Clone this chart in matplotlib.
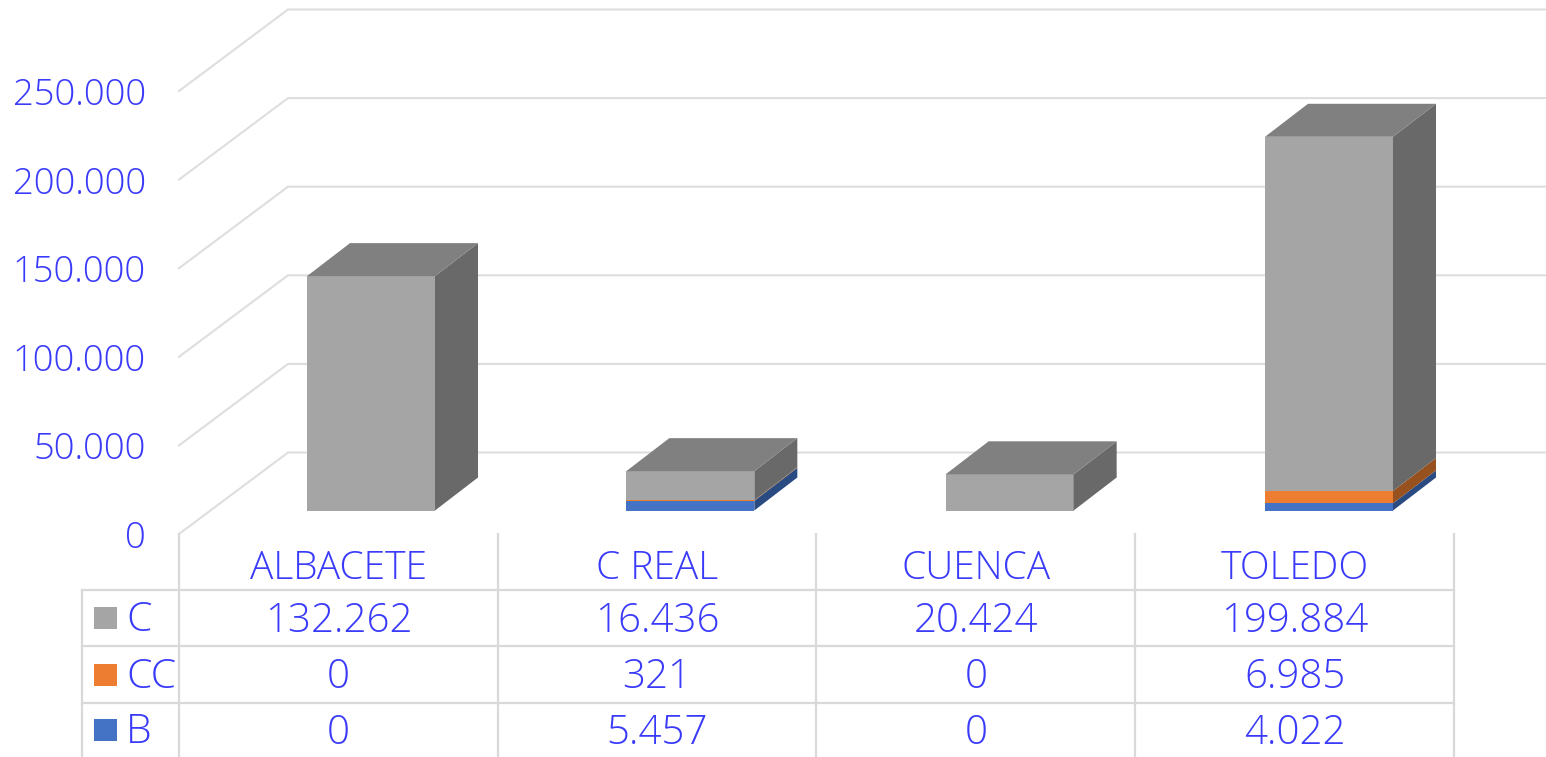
import matplotlib
matplotlib.use("Agg")
import matplotlib.pyplot as plt
from matplotlib.patches import Polygon, Rectangle

categorias = ["ALBACETE", "C REAL", "CUENCA", "TOLEDO"]
serie_c = [132262, 16436, 20424, 199884]
serie_cc = [0, 321, 0, 6985]
serie_b = [0, 5457, 0, 4022]
ticks_y = [0, 50000, 100000, 150000, 200000, 250000]

AZUL_TEXTO = "#3a3afa"
GRIS_LINEA = "#dedede"
GRIS_TABLA = "#d9d9d9"
FUENTE = ["Open Sans", "DejaVu Sans"]

W, H = 1546, 757
COL = 318.75      # ancho de columna en px
ESC = 1.772 / 1000  # px por unidad
X0 = 179
Y_BASE = 510.5
PASO_BARRA = 319.33 / COL
BAJA_TEXTO = 2.5  # px, centrado de la fuente


def dx(px):
    return px / COL


def dy(px):
    return px / ESC


def miles(v):
    return f"{v:,}".replace(",", ".")


def caja(ax, i, v0, v1, frente, lado, techo=None):
    x0 = i * PASO_BARRA + dx(128)
    x1 = x0 + dx(128)
    ox, oy = dx(43), dy(33)
    ax.add_patch(Rectangle((x0, v0), x1 - x0, v1 - v0, fc=frente, ec="none", zorder=5))
    ax.add_patch(Polygon([(x1, v0), (x1 + ox, v0 + oy), (x1 + ox, v1 + oy), (x1, v1)],
                         fc=lado, ec="none", zorder=5))
    if techo:
        ax.add_patch(Polygon([(x0, v1), (x1, v1), (x1 + ox, v1 + oy), (x0 + ox, v1 + oy)],
                             fc=techo, ec="none", zorder=5))


fig = plt.figure(figsize=(W / 100, H / 100), dpi=100)
ax = fig.add_axes([0, 0, 1, 1])
ax.set_xlim(-dx(X0), dx(W - X0))
ax.set_ylim(-dy(H - Y_BASE), dy(Y_BASE))
ax.set_axis_off()

# paredes: rejilla en perspectiva
suelo = -dy(23.5)
fx, fy = dx(109), dy(81.5)
for t in ticks_y:
    v = suelo + t
    ax.plot([0, fx, dx(W - X0)], [v, v + fy, v + fy], color=GRIS_LINEA, lw=1.5,
            solid_joinstyle="miter", zorder=1)
    ax.text(-dx(33), v - dy(4.5), miles(t), ha="right", va="center", color=AZUL_TEXTO,
            fontsize=26.2, family=FUENTE, weight="light")

# barras apiladas
for i in range(len(categorias)):
    base = 0
    tramos = [(serie_b[i], "#4472c4", "#2a4a82"), (serie_cc[i], "#ed7d31", "#96511f"),
              (serie_c[i], "#a5a5a5", "#696969")]
    for valor, frente, lado in tramos:
        if valor > 0:
            caja(ax, i, base, base + valor, frente, lado)
            base += valor
    caja(ax, i, base, base, "#a5a5a5", "#696969", techo="#808080")

# tabla de datos
y_fil = [-dy(590 - Y_BASE), -dy(646 - Y_BASE), -dy(703 - Y_BASE), -dy(H - Y_BASE)]
n = len(categorias)
for j in range(n + 1):
    ax.plot([j, j], [suelo, y_fil[-1]], color=GRIS_TABLA, lw=1.6, zorder=2)
ax.plot([-dx(97)] * 2, [y_fil[0], y_fil[-1]], color=GRIS_TABLA, lw=1.6, zorder=2)
for y in y_fil[:3]:
    ax.plot([-dx(97), n], [y, y], color=GRIS_TABLA, lw=1.6, zorder=2)

for i, cat in enumerate(categorias):
    ax.text(i + 0.5, -dy(566 + BAJA_TEXTO - Y_BASE), cat, ha="center", va="center",
            color=AZUL_TEXTO, fontsize=28, family=FUENTE, weight="light")

filas = [("C", serie_c, "#a5a5a5"), ("CC", serie_cc, "#ed7d31"), ("B", serie_b, "#4472c4")]
for r, (nombre, serie, color) in enumerate(filas):
    yc = (y_fil[r] + y_fil[r + 1]) / 2
    ax.add_patch(Rectangle((-dx(85), yc - dy(11)), dx(23), dy(22), fc=color, ec="none", zorder=3))
    ax.text(-dx(53), yc - dy(BAJA_TEXTO), nombre, ha="left", va="center", color=AZUL_TEXTO,
            fontsize=29.5, family=FUENTE, weight="light")
    for i, v in enumerate(serie):
        ax.text(i + 0.5, yc - dy(3.5), miles(v), ha="center", va="center", color=AZUL_TEXTO,
                fontsize=29, family=FUENTE, weight="light")

fig.savefig("out.png", dpi=100, facecolor="white")
plt.close(fig)
